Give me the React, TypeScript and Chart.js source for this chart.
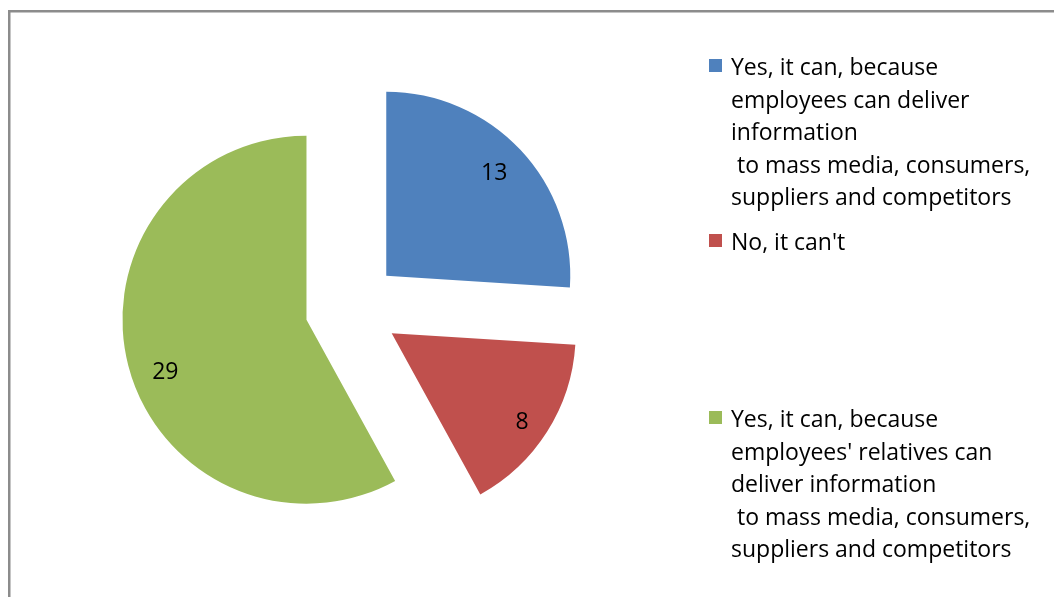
import React, { useEffect, useRef } from 'react';
import { Chart, registerables } from 'chart.js';

Chart.register(...registerables);

// ---- data ----
const categories: string[] = [
  "Yes, it can, because\nemployees can deliver\ninformation\n to mass media, consumers,\nsuppliers and competitors",
  "No, it can't",
  "Yes, it can, because\nemployees' relatives can\ndeliver information\n to mass media, consumers,\nsuppliers and competitors",
];
const values: number[] = [13, 8, 29];
const colors: string[] = ['#4F81BD', '#C0504D', '#9BBB59'];

// ---- layout / style constants ----
const W = 1054;
const H = 597;
const FONT_FAMILY = '"Open Sans", Lato, sans-serif';
const FONT_SIZE = 23;
const EXPLODE = 47;
const RADIUS = 184;
const LABEL_FRAC = 0.82;
const LABEL_NUDGE: [number, number][] = [[-2, 1], [3, 8], [5, 15]];
const LEGEND_BOX_X = 709;
const LEGEND_BOX = 13;
const LEGEND_TEXT_X = 731;
const LEGEND_BASELINES = [75, 250, 427];
const LINE_H = 32.5;

const piePlugin = {
  id: 'explodedPie',
  beforeDraw(chart: any) {
    const ctx = chart.ctx;
    ctx.save();
    ctx.fillStyle = '#8c8c8c';
    ctx.fillRect(8, 10, W - 8, 2.5);
    ctx.fillRect(8, 10, 2.5, H - 10);
    ctx.restore();
  },
  beforeDatasetDraw(chart: any, args: any) {
    const ctx = chart.ctx;
    args.meta.data.forEach((arc: any) => {
      const mid = (arc.startAngle + arc.endAngle) / 2;
      ctx.save();
      ctx.translate(Math.cos(mid) * EXPLODE, Math.sin(mid) * EXPLODE);
      arc.draw(ctx);
      ctx.restore();
    });
    return false;
  },
  afterDraw(chart: any) {
    const ctx = chart.ctx;
    const meta = chart.getDatasetMeta(0);
    const ds = chart.data.datasets[0];
    ctx.save();
    ctx.font = `${FONT_SIZE}px ${FONT_FAMILY}`;
    ctx.fillStyle = '#000';
    // data labels
    ctx.textAlign = 'center';
    ctx.textBaseline = 'middle';
    meta.data.forEach((arc: any, i: number) => {
      const mid = (arc.startAngle + arc.endAngle) / 2;
      const d = EXPLODE + LABEL_FRAC * arc.outerRadius;
      const [nx, ny] = LABEL_NUDGE[i] || [0, 0];
      ctx.fillText(String(ds.data[i]), arc.x + Math.cos(mid) * d + nx, arc.y + Math.sin(mid) * d + ny);
    });
    // legend
    ctx.textAlign = 'left';
    ctx.textBaseline = 'alphabetic';
    (chart.data.labels as string[]).forEach((label, i) => {
      const base = LEGEND_BASELINES[i];
      ctx.fillStyle = (ds.backgroundColor as string[])[i];
      ctx.fillRect(LEGEND_BOX_X, base - 16, LEGEND_BOX, LEGEND_BOX);
      ctx.fillStyle = '#000';
      label.split('\n').forEach((line, j) => {
        ctx.fillText(line, LEGEND_TEXT_X, base + j * LINE_H);
      });
    });
    ctx.restore();
  },
};

export default function App() {
  const ref = useRef<HTMLCanvasElement>(null);
  useEffect(() => {
    if (!ref.current) return;
    const chart = new Chart(ref.current, {
      type: 'pie',
      data: {
        labels: categories,
        datasets: [
          {
            data: values,
            backgroundColor: colors,
            borderWidth: 0,
            radius: RADIUS,
          } as any,
        ],
      },
      options: {
        animation: false,
        responsive: false,
        events: [],
        layout: { padding: { left: 100, right: 450, top: 58, bottom: 39 } },
        plugins: {
          legend: { display: false },
          tooltip: { enabled: false },
        },
      },
      plugins: [piePlugin],
    });
    return () => chart.destroy();
  }, []);
  return (
    <div style={{ position: 'absolute', left: 0, top: 0, width: W, height: H, background: '#fff' }}>
      <canvas ref={ref} width={W} height={H} style={{ width: W, height: H, display: 'block' }} />
    </div>
  );
}
